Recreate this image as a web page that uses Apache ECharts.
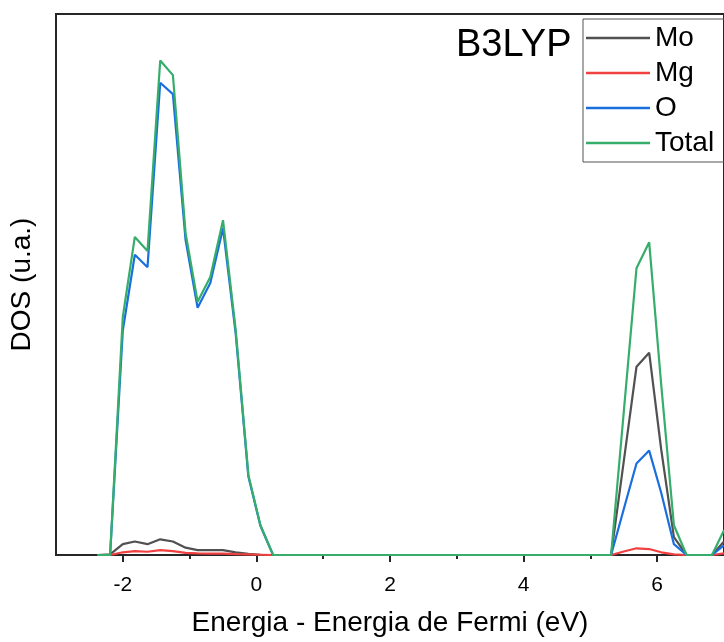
<!DOCTYPE html>
<html>
<head>
<meta charset="utf-8">
<script src="https://cdn.jsdelivr.net/npm/echarts@6/dist/echarts.min.js"></script>
<style>
  html, body { margin: 0; padding: 0; background: #fff; }
  #chart { width: 724px; height: 642px; }
</style>
</head>
<body>
<div id="chart"></div>
<script>
// energia (eV) de cada punto
var energy = [-2.38, -2.19, -2.00, -1.82, -1.63, -1.44, -1.25, -1.06, -0.88, -0.69, -0.50, -0.31, -0.12, 0.06, 0.25,
              5.31, 5.50, 5.69, 5.88, 6.06, 6.25, 6.44, 6.82, 7.00];
var dosMo    = [0, 0.1, 2.0, 2.5, 2.0, 2.9, 2.5, 1.35, 0.9, 0.9, 0.9, 0.5, 0.2, 0.05, 0,
                0, 17.35, 34.8, 37.4, 19.5, 3.3, 0, 0, 2.5];
var dosMg    = [0, 0, 0.5, 0.7, 0.6, 0.9, 0.7, 0.4, 0.3, 0.25, 0.25, 0.15, 0.1, 0.05, 0,
                0, 0.65, 1.24, 1.1, 0.5, 0.13, 0, 0, 0.3];
var dosO     = [0, 0, 41.5, 55.5, 53.2, 87.3, 85.2, 58.2, 45.7, 50.3, 60.4, 40.9, 14.5, 5.4, 0,
                0, 8.5, 16.9, 19.3, 11.5, 2.0, 0, 0, 1.8];
var dosTotal = [0, 0, 44.0, 58.8, 56.2, 91.4, 88.7, 59.5, 46.8, 51.4, 61.9, 41.6, 14.8, 5.5, 0,
                0, 26.5, 53.0, 57.8, 31.5, 5.5, 0, 0, 4.6];
var majorTicks = [-2, 0, 2, 4, 6];
var minorTicks = [-1, 1, 3, 5];

var names = ['Mo', 'Mg', 'O', 'Total'];
var colors = ['#515151', '#F14040', '#1A6FDF', '#37AD6B'];
var values = [dosMo, dosMg, dosO, dosTotal];

function pairs(arr) {
  return energy.map(function(e, i) { return [e, arr[i]]; });
}

var font = "'Liberation Sans', Arial, sans-serif";
var chart = echarts.init(document.getElementById('chart'));

var option = {
  animation: false,
  backgroundColor: '#fff',
  textStyle: { fontFamily: font },
  grid: {
    left: 55, top: 14, width: 670, height: 541,
    show: true, borderColor: '#262626', borderWidth: 2
  },
  legend: {
    data: names,
    orient: 'vertical',
    left: 583, top: 19,
    padding: [1.5, 30, 1.5, 3],
    itemGap: 0,
    icon: 'rect',
    itemWidth: 64,
    itemHeight: 2.5,
    borderColor: '#555',
    borderWidth: 1,
    textStyle: { fontSize: 28, color: '#000', fontFamily: font, lineHeight: 35 }
  },
  graphic: [{
    type: 'text',
    left: 456, top: 27,
    style: { text: 'B3LYP', fontSize: 38, fill: '#000', fontFamily: font }
  }],
  xAxis: [{
    type: 'value',
    min: -3, max: 7,
    name: 'Energia - Energia de Fermi (eV)',
    nameLocation: 'middle',
    nameGap: 54,
    nameTextStyle: { fontSize: 28, color: '#000', fontFamily: font },
    axisLine: { show: false },
    axisTick: { show: true, length: 7, customValues: majorTicks, lineStyle: { color: '#262626', width: 2 } },
    axisLabel: { customValues: majorTicks, fontSize: 21, color: '#000', margin: 20, fontFamily: font },
    splitLine: { show: false }
  }, {
    type: 'value',
    min: -3, max: 7,
    position: 'bottom',
    axisLine: { show: false },
    axisTick: { show: true, length: 4, customValues: minorTicks, lineStyle: { color: '#262626', width: 2 } },
    axisLabel: { show: false },
    splitLine: { show: false }
  }],
  yAxis: {
    type: 'value',
    min: 0, max: 100,
    name: 'DOS (u.a.)',
    nameLocation: 'middle',
    nameGap: 20,
    nameTextStyle: { fontSize: 28, color: '#000', fontFamily: font },
    axisLine: { show: false },
    axisTick: { show: false },
    axisLabel: { show: false },
    splitLine: { show: false }
  },
  series: names.map(function(n, i) {
    return {
      name: n,
      type: 'line',
      xAxisIndex: 0,
      data: pairs(values[i]),
      symbol: 'none',
      color: colors[i],
      lineStyle: { color: colors[i], width: 2.2 },
      z: 2 + i
    };
  })
};
chart.setOption(option);
window.onresize = chart.resize;
</script>
</body>
</html>
